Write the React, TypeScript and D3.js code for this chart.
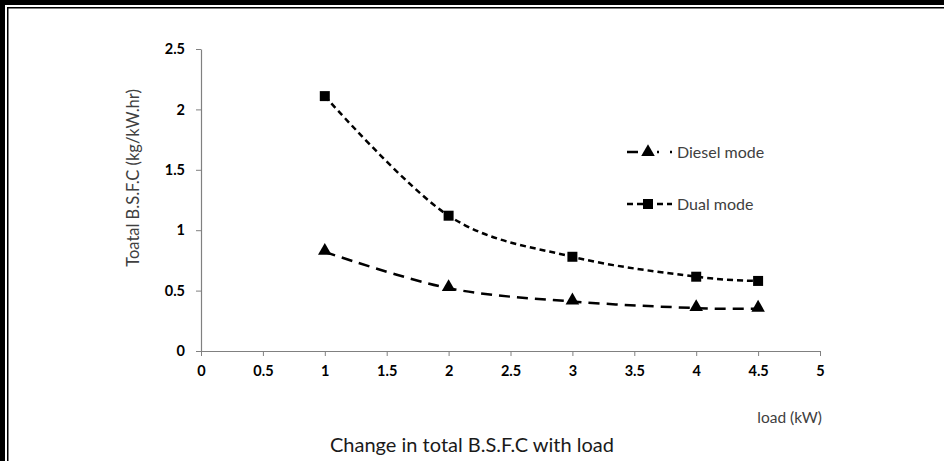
import { useRef, useEffect } from "react";
import * as d3 from "d3";

// load (kW)
const loads = [1, 2, 3, 4, 4.5];
// total B.S.F.C (kg/kW.hr)
const dieselMode = [0.82, 0.52, 0.41, 0.355, 0.35];
const dualMode = [2.11, 1.12, 0.78, 0.615, 0.58];
const xTicks = [0, 0.5, 1, 1.5, 2, 2.5, 3, 3.5, 4, 4.5, 5];
const yTicks = [0, 0.5, 1, 1.5, 2, 2.5];

const FONT = "Lato, 'Open Sans', sans-serif";

export default function App() {
  const ref = useRef<SVGSVGElement>(null);

  useEffect(() => {
    const svg = d3.select(ref.current);
    svg.selectAll("*").remove();

    const width = 944;
    const height = 461;
    const margin = { top: 49, right: 124, bottom: 110, left: 201 };

    svg.append("rect").attr("width", width).attr("height", height).attr("fill", "#fff");

    // frame: thick outer band plus thin inner rule on left and top
    svg.append("rect").attr("x", 0).attr("y", 0).attr("width", 5).attr("height", height).attr("fill", "#000");
    svg.append("rect").attr("x", 0).attr("y", 0).attr("width", width).attr("height", 5).attr("fill", "#000");
    svg.append("rect").attr("x", 7).attr("y", 7).attr("width", 1.5).attr("height", height).attr("fill", "#000");
    svg.append("rect").attr("x", 7).attr("y", 7).attr("width", width).attr("height", 1.5).attr("fill", "#000");

    const x = d3.scaleLinear().domain([0, 5]).range([margin.left, width - margin.right]);
    const y = d3.scaleLinear().domain([0, 2.5]).range([height - margin.bottom, margin.top]);

    const xAxis = svg
      .append("g")
      .attr("transform", `translate(0, ${y(0)})`)
      .call(d3.axisBottom(x).tickValues(xTicks).tickSize(5).tickSizeOuter(0).tickFormat((d) => String(d)));
    xAxis.select(".domain").attr("stroke", "#808080").attr("stroke-width", 1.2);
    xAxis.selectAll(".tick line").attr("stroke", "#808080");
    xAxis
      .selectAll("text")
      .attr("font-family", FONT)
      .attr("font-size", 14.5)
      .attr("font-weight", "bold")
      .attr("fill", "#000")
      .attr("y", 12)
      .attr("dy", "0.9em");

    const yAxis = svg
      .append("g")
      .attr("transform", `translate(${x(0)}, 0)`)
      .call(d3.axisLeft(y).tickValues(yTicks).tickSize(5).tickSizeOuter(0).tickFormat((d) => String(d)));
    yAxis.select(".domain").attr("stroke", "#808080").attr("stroke-width", 1.2);
    yAxis.selectAll(".tick line").attr("stroke", "#808080");
    yAxis
      .selectAll("text")
      .attr("font-family", FONT)
      .attr("font-size", 14.5)
      .attr("font-weight", "bold")
      .attr("fill", "#000")
      .attr("x", -16);

    const line = d3
      .line<number>()
      .x((d, i) => x(loads[i]))
      .y((d) => y(d))
      .curve(d3.curveCardinal.tension(0));

    // Dual mode
    svg
      .append("path")
      .datum(dualMode)
      .attr("d", line)
      .attr("fill", "none")
      .attr("stroke", "#000")
      .attr("stroke-width", 2.5)
      .attr("stroke-dasharray", "6,4");

    // Diesel mode
    svg
      .append("path")
      .datum(dieselMode)
      .attr("d", line)
      .attr("fill", "none")
      .attr("stroke", "#000")
      .attr("stroke-width", 2.5)
      .attr("stroke-dasharray", "11,7");

    const sq = d3.symbol().type(d3.symbolSquare).size(100);
    const tri = d3.symbol().type(d3.symbolTriangle).size(80);

    svg
      .selectAll(".dual")
      .data(dualMode)
      .join("path")
      .attr("class", "dual")
      .attr("d", sq)
      .attr("transform", (d, i) => `translate(${x(loads[i])}, ${y(d)})`)
      .attr("fill", "#000");

    svg
      .selectAll(".diesel")
      .data(dieselMode)
      .join("path")
      .attr("class", "diesel")
      .attr("d", tri)
      .attr("transform", (d, i) => `translate(${x(loads[i])}, ${y(d) - 1})`)
      .attr("fill", "#000");

    // legend
    const legend = [
      { label: "Diesel mode", y: 152, dash: "11,19,2", marker: tri },
      { label: "Dual mode", y: 204, dash: "6,4", marker: sq },
    ];
    legend.forEach((l) => {
      svg
        .append("line")
        .attr("x1", 627)
        .attr("x2", 672)
        .attr("y1", l.y)
        .attr("y2", l.y)
        .attr("stroke", "#000")
        .attr("stroke-width", 2.5)
        .attr("stroke-dasharray", l.dash);
      svg
        .append("path")
        .attr("d", l.marker)
        .attr("transform", `translate(648, ${l.y})`)
        .attr("fill", "#000");
      svg
        .append("text")
        .attr("x", 677)
        .attr("y", l.y)
        .attr("dy", "0.35em")
        .attr("font-family", FONT)
        .attr("font-size", 16)
        .attr("fill", "#404040")
        .text(l.label);
    });

    // axis titles
    svg
      .append("text")
      .attr("transform", `translate(139, ${178}) rotate(-90)`)
      .attr("text-anchor", "middle")
      .attr("font-family", FONT)
      .attr("font-size", 16.5)
      .attr("fill", "#404040")
      .text("Toatal B.S.F.C (kg/kW.hr)");

    svg
      .append("text")
      .attr("x", 822)
      .attr("y", 423)
      .attr("text-anchor", "end")
      .attr("font-family", FONT)
      .attr("font-size", 15.5)
      .attr("fill", "#404040")
      .text("load (kW)");

    svg
      .append("text")
      .attr("x", 472)
      .attr("y", 452)
      .attr("text-anchor", "middle")
      .attr("font-family", FONT)
      .attr("font-size", 20)
      .attr("fill", "#1a1a1a")
      .text("Change in total B.S.F.C with load");
  }, []);

  return (
    <svg
      ref={ref}
      width={944}
      height={461}
      style={{ position: "absolute", left: 0, top: 0, display: "block" }}
    />
  );
}
